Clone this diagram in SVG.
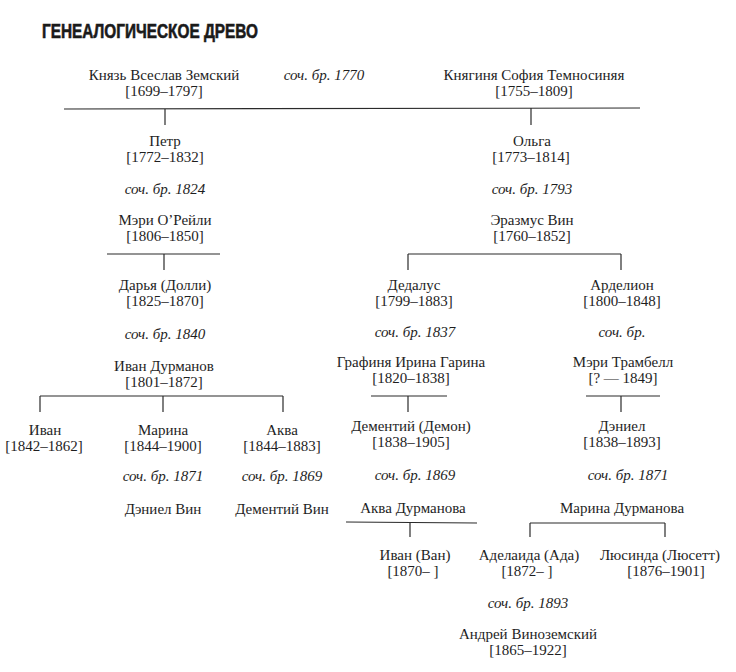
<svg xmlns="http://www.w3.org/2000/svg" width="736" height="672" viewBox="0 0 736 672">
<style>
text{font-family:"Liberation Serif","DejaVu Serif",serif;font-size:15px;fill:#1e1e1e;text-anchor:middle}
.m{font-style:italic}
.t{font-family:"Liberation Sans","DejaVu Sans",sans-serif;font-weight:bold;font-size:20px;text-anchor:start;fill:#1a1a1a;stroke:#1a1a1a;stroke-width:0.6}
.c line{stroke:#2a2a2a;stroke-width:1.2}
</style>
<rect width="736" height="672" fill="#fff"/>
<text class="t" x="42" y="38" textLength="216" lengthAdjust="spacingAndGlyphs">ГЕНЕАЛОГИЧЕСКОЕ ДРЕВО</text>
<g class="c" id="connectors">
<line x1="64" y1="109" x2="640" y2="108"/>
<line x1="165" y1="109" x2="165" y2="125"/>
<line x1="531" y1="108" x2="531" y2="125"/>
<line x1="107" y1="254" x2="220" y2="254"/>
<line x1="164" y1="254" x2="164" y2="270"/>
<line x1="408" y1="254" x2="621" y2="254"/>
<line x1="408" y1="254" x2="408" y2="270"/>
<line x1="621" y1="254" x2="621" y2="270"/>
<line x1="40" y1="396" x2="283" y2="396"/>
<line x1="40" y1="396" x2="40" y2="412"/>
<line x1="163" y1="396" x2="163" y2="412"/>
<line x1="283" y1="396" x2="283" y2="412"/>
<line x1="371" y1="396" x2="447" y2="396"/>
<line x1="408" y1="396" x2="408" y2="412"/>
<line x1="586" y1="396" x2="660" y2="396"/>
<line x1="621" y1="396" x2="621" y2="412"/>
<line x1="346" y1="522" x2="477" y2="523"/>
<line x1="410" y1="523" x2="410" y2="537"/>
<line x1="530" y1="523" x2="665" y2="523"/>
<line x1="530" y1="523" x2="530" y2="537"/>
<line x1="665" y1="523" x2="665" y2="537"/>
</g>
<g id="vseslav"><text x="164" y="80">Князь Всеслав Земский</text><text x="164" y="96">[1699–1797]</text></g>
<g id="m1770"><text class="m" x="324" y="80">соч. бр. 1770</text></g>
<g id="sofia"><text x="534" y="80">Княгиня София Темносиняя</text><text x="534" y="96">[1755–1809]</text></g>
<g id="petr"><text x="165" y="146">Петр</text><text x="165" y="162">[1772–1832]</text></g>
<g id="m1824"><text class="m" x="165" y="194">соч. бр. 1824</text></g>
<g id="mary"><text x="165" y="225">Мэри О’Рейли</text><text x="165" y="241">[1806–1850]</text></g>
<g id="darya"><text x="165" y="290">Дарья (Долли)</text><text x="165" y="306">[1825–1870]</text></g>
<g id="m1840"><text class="m" x="165" y="339">соч. бр. 1840</text></g>
<g id="ivand"><text x="164" y="371">Иван Дурманов</text><text x="164" y="387">[1801–1872]</text></g>
<g id="ivan"><text x="45" y="435">Иван</text><text x="44" y="451">[1842–1862]</text></g>
<g id="marina"><text x="163" y="435">Марина</text><text x="163" y="451">[1844–1900]</text></g>
<g id="aqua"><text x="282" y="435">Аква</text><text x="282" y="451">[1844–1883]</text></g>
<g id="m1871a"><text class="m" x="163" y="481">соч. бр. 1871</text></g>
<g id="m1869a"><text class="m" x="282" y="481">соч. бр. 1869</text></g>
<g id="danielvin"><text x="163" y="514">Дэниел Вин</text></g>
<g id="dementiyvin"><text x="282" y="514">Дементий Вин</text></g>
<g id="olga"><text x="532" y="146">Ольга</text><text x="531" y="162">[1773–1814]</text></g>
<g id="m1793"><text class="m" x="532" y="194">соч. бр. 1793</text></g>
<g id="erazmus"><text x="532" y="225">Эразмус Вин</text><text x="532" y="241">[1760–1852]</text></g>
<g id="dedalus"><text x="414" y="290">Дедалус</text><text x="414" y="306">[1799–1883]</text></g>
<g id="ardelion"><text x="622" y="290">Арделион</text><text x="622" y="306">[1800–1848]</text></g>
<g id="m1837"><text class="m" x="415" y="337">соч. бр. 1837</text></g>
<g id="mbr"><text class="m" x="622" y="337">соч. бр.</text></g>
<g id="irina"><text x="411" y="367">Графиня Ирина Гарина</text><text x="411" y="383">[1820–1838]</text></g>
<g id="trambell"><text x="623" y="367">Мэри Трамбелл</text><text x="623" y="383">[? — 1849]</text></g>
<g id="demon"><text x="411" y="431">Дементий (Демон)</text><text x="411" y="447">[1838–1905]</text></g>
<g id="daniel"><text x="622" y="431">Дэниел</text><text x="622" y="447">[1838–1893]</text></g>
<g id="m1869b"><text class="m" x="415" y="480">соч. бр. 1869</text></g>
<g id="m1871b"><text class="m" x="628" y="480">соч. бр. 1871</text></g>
<g id="aquad"><text x="413" y="513">Аква Дурманова</text></g>
<g id="marinad"><text x="622" y="513">Марина Дурманова</text></g>
<g id="van"><text x="415" y="560">Иван (Ван)</text><text x="413" y="576">[1870– ]</text></g>
<g id="ada"><text x="529" y="560">Аделаида (Ада)</text><text x="527" y="576">[1872– ]</text></g>
<g id="lucette"><text x="660" y="560">Люсинда (Люсетт)</text><text x="666" y="576">[1876–1901]</text></g>
<g id="m1893"><text class="m" x="528" y="608">соч. бр. 1893</text></g>
<g id="andrey"><text x="528" y="639">Андрей Виноземский</text><text x="528" y="655">[1865–1922]</text></g>
</svg>
